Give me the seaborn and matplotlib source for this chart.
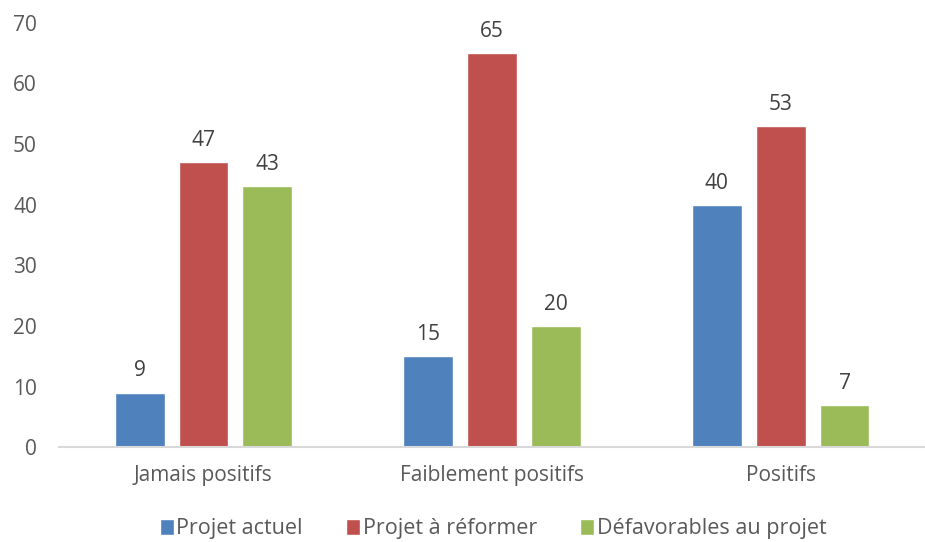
import matplotlib
matplotlib.use("Agg")
import matplotlib.pyplot as plt
import seaborn as sns
import pandas as pd

categories = ["Jamais positifs", "Faiblement positifs", "Positifs"]
series = ["Projet actuel", "Projet à réformer", "Défavorables au projet"]
projet_actuel = [9, 15, 40]
projet_reformer = [47, 65, 53]
defavorables = [43, 20, 7]
colors = ["#4F81BD", "#C0504D", "#9BBB59"]
yticks = [0, 10, 20, 30, 40, 50, 60, 70]

rows = []
for s, vals in zip(series, [projet_actuel, projet_reformer, defavorables]):
    for c, v in zip(categories, vals):
        rows.append({"cat": c, "series": s, "val": v})
df = pd.DataFrame(rows)

sns.set_theme(style="white")
plt.rcParams["font.family"] = ["Open Sans", "DejaVu Sans"]

FS = 15

fig = plt.figure(figsize=(9.25, 5.42), dpi=100)
ax = fig.add_axes([0.064, 0.175, 0.936, 0.783])
sns.barplot(data=df, x="cat", y="val", hue="series", order=categories,
            hue_order=series, palette=colors, width=0.664, gap=0.22,
            saturation=1, ax=ax, legend=True)

for cont in ax.containers:
    for bar in cont:
        h = bar.get_height()
        ax.annotate(f"{h:g}", (bar.get_x() + bar.get_width() / 2, h),
                    xytext=(0, 8), textcoords="offset points",
                    ha="center", va="bottom", fontsize=FS, color="#404040")

ax.set_ylim(0, 70)
ax.set_xlim(-0.5, 2.5)
ax.set_yticks(yticks)
ax.set_xlabel("")
ax.set_ylabel("")
for sp in ["left", "right", "top"]:
    ax.spines[sp].set_visible(False)
ax.spines["bottom"].set_color("#D9D9D9")
ax.spines["bottom"].set_linewidth(1.5)
ax.tick_params(axis="both", length=0, labelsize=FS, colors="#595959")
ax.tick_params(axis="x", pad=13)
ax.tick_params(axis="y", pad=16)

handles, labels = ax.get_legend_handles_labels()
ax.legend_.remove()
fig.legend(handles, labels, loc="lower center", bbox_to_anchor=(0.533, -0.031),
           ncol=3, frameon=False, fontsize=15.5, handlelength=0.65,
           handleheight=0.75, handletextpad=0.12, columnspacing=2.0,
           labelcolor="#595959")

fig.savefig("out.png", dpi=100)
